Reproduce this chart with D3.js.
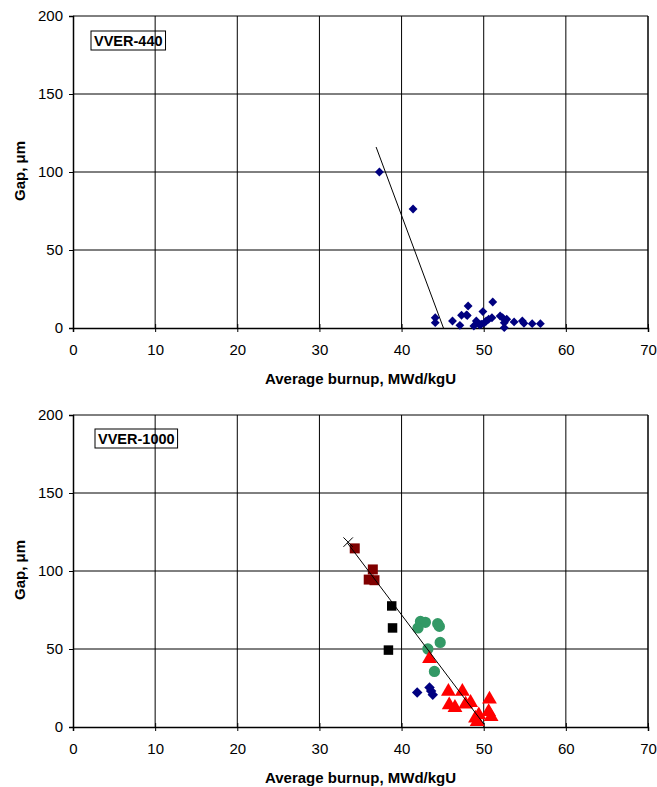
<!DOCTYPE html>
<html>
<head>
<meta charset="utf-8">
<script src="https://cdn.jsdelivr.net/npm/d3@7"></script>
<style>
  body { margin: 0; background: #fff; }
  text { font-family: "Liberation Sans", Arial, sans-serif; }
</style>
</head>
<body>
<script>
// VVER-440 measured gap vs burnup
const vver440X = [37.3, 41.4, 44.1, 44.1, 46.2, 47.1, 47.3, 47.9, 48.1, 48.8, 49.1, 49.9, 49.7, 50.1, 50.3, 50.6, 51.1, 51.0, 52.0, 52.3, 52.5, 52.5, 52.8, 53.7, 54.7, 54.9, 55.9, 56.9, 48.0, 49.5];
const vver440Y = [100, 76.3, 6.6, 3.4, 4.5, 1.7, 8.2, 8.4, 14.1, 1.3, 4.5, 10.5, 2.4, 3.4, 4.5, 5.6, 16.7, 6.6, 7.7, 6.6, 3.4, 0.2, 5.6, 3.9, 4.5, 3.0, 2.8, 2.8, 8.0, 2.0];
const trend440 = [[36.9, 116], [45.1, 0]];

// VVER-1000 series
const crossX = [33.5];
const crossY = [118.5];
const darkRedX = [34.3, 36.5, 36.0, 36.7];
const darkRedY = [114.5, 101, 94.5, 94.1];
const blackX = [38.8, 38.9, 38.4];
const blackY = [77.6, 63.5, 49.3];
const greenX = [42.3, 42.9, 42.0, 44.4, 44.6, 44.7, 43.2, 44.0];
const greenY = [67.7, 67.1, 63.5, 66.2, 64.5, 54.2, 50.0, 35.6];
const redX = [43.4, 45.7, 47.4, 45.8, 46.5, 47.8, 48.4, 49.0, 49.2, 50.7, 50.6, 50.9, 49.4];
const redY = [43.7, 22.7, 22.7, 14.1, 12.4, 14.6, 15.6, 5.6, 3.4, 17.8, 9.8, 6.6, 7.7];
const navyX = [41.9, 43.4, 43.8, 43.6];
const navyY = [22.1, 25.3, 20.6, 23.0];
const trend1000 = [[33.4, 118], [50.0, 2]];

const xTicks = [0, 10, 20, 30, 40, 50, 60, 70];
const yTicks = [0, 50, 100, 150, 200];

const svg = d3.select("body").append("svg")
    .attr("width", 657)
    .attr("height", 787);

const x = d3.scaleLinear().domain([0, 70]).range([73, 648]);

function drawPanel(top, label, labelBox) {
    const y = d3.scaleLinear().domain([0, 200]).range([top + 312, top]);
    const g = svg.append("g");

    // grid
    g.selectAll(".vgrid").data(xTicks.slice(1, -1)).enter().append("line")
        .attr("x1", d => x(d)).attr("x2", d => x(d))
        .attr("y1", y(0)).attr("y2", y(200))
        .attr("stroke", "#000").attr("stroke-width", 1);
    g.selectAll(".hgrid").data(yTicks.slice(1)).enter().append("line")
        .attr("x1", x(0)).attr("x2", x(70))
        .attr("y1", d => y(d)).attr("y2", d => y(d))
        .attr("stroke", "#000").attr("stroke-width", 1);

    // right border
    g.append("line").attr("x1", x(70)).attr("x2", x(70))
        .attr("y1", y(0)).attr("y2", y(200))
        .attr("stroke", "#000").attr("stroke-width", 1.5);

    // axes
    const xAxis = g.append("g")
        .attr("transform", "translate(0," + y(0) + ")")
        .call(d3.axisBottom(x).tickValues(xTicks).tickSizeOuter(0).tickSize(4).tickPadding(12));
    const yAxis = g.append("g")
        .attr("transform", "translate(" + x(0) + ",0)")
        .call(d3.axisLeft(y).tickValues(yTicks).tickSizeOuter(0).tickSize(4).tickPadding(6));
    [xAxis, yAxis].forEach(a => {
        a.selectAll("text").style("font-size", "15px").attr("fill", "#000")
            .style("font-family", "'Liberation Sans', Arial, sans-serif");
        a.select(".domain").attr("stroke-width", 1.5);
    });
    xAxis.selectAll(".tick line").attr("y1", -4);

    // axis titles
    g.append("text")
        .attr("x", (x(0) + x(70)) / 2 + 0)
        .attr("y", y(0) + 56)
        .attr("text-anchor", "middle")
        .style("font-size", "15px").style("font-weight", "bold")
        .text("Average burnup, MWd/kgU");
    g.append("text")
        .attr("transform", "translate(25," + (y(100) - 1) + ") rotate(-90)")
        .attr("text-anchor", "middle")
        .style("font-size", "15px").style("font-weight", "bold")
        .text("Gap, \u03bcm");

    // label box
    const lg = g.append("g");
    const lt = lg.append("text")
        .attr("x", labelBox[0] + 4)
        .attr("y", top + labelBox[1])
        .style("font-size", "14.5px").style("font-weight", "bold")
        .text(label);
    const bb = lt.node().getBBox();
    lg.insert("rect", "text")
        .attr("x", bb.x - 3).attr("y", bb.y - 2)
        .attr("width", bb.width + 6).attr("height", bb.height + 3)
        .attr("fill", "none").attr("stroke", "#000").attr("stroke-width", 1);

    return { g, y };
}

// top panel
const p1 = drawPanel(16, "VVER-440", [90, 30]);
p1.g.append("line")
    .attr("x1", x(trend440[0][0])).attr("y1", p1.y(trend440[0][1]))
    .attr("x2", x(trend440[1][0])).attr("y2", p1.y(trend440[1][1]))
    .attr("stroke", "#000").attr("stroke-width", 1);
p1.g.selectAll(".p440").data(vver440X).enter().append("path")
    .attr("d", d3.symbol(d3.symbolDiamond2, 50)())
    .attr("transform", (d, i) => "translate(" + x(d) + "," + p1.y(vver440Y[i]) + ")")
    .attr("fill", "#000080");

// bottom panel
const p2 = drawPanel(415, "VVER-1000", [94, 29]);

function series(xs, ys, sym, size, color) {
    p2.g.selectAll(null).data(xs).enter().append("path")
        .attr("d", d3.symbol(sym, size)())
        .attr("transform", (d, i) => "translate(" + x(d) + "," + p2.y(ys[i]) + ")")
        .attr("fill", color);
}
series(navyX, navyY, d3.symbolDiamond2, 70, "#000080");
series(darkRedX, darkRedY, d3.symbolSquare, 100, "#800000");
series(blackX, blackY, d3.symbolSquare, 90, "#000000");
series(greenX, greenY, d3.symbolCircle, 100, "#339966");
series(redX, redY, d3.symbolTriangle, 95, "#FF0000");

p2.g.append("line")
    .attr("x1", x(trend1000[0][0])).attr("y1", p2.y(trend1000[0][1]))
    .attr("x2", x(trend1000[1][0])).attr("y2", p2.y(trend1000[1][1]))
    .attr("stroke", "#000").attr("stroke-width", 1);

p2.g.selectAll(".cross").data(crossX).enter().append("path")
    .attr("d", d3.symbol(d3.symbolTimes, 60)())
    .attr("transform", (d, i) => "translate(" + x(d) + "," + p2.y(crossY[i]) + ")")
    .attr("fill", "none").attr("stroke", "#000").attr("stroke-width", 1);
</script>
</body>
</html>
